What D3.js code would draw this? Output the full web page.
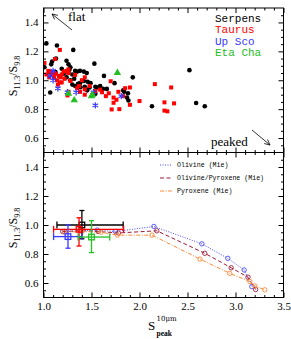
<!DOCTYPE html>
<html><head><meta charset="utf-8">
<script src="https://cdn.jsdelivr.net/npm/d3@7"></script>
<style>html,body{margin:0;padding:0;background:#fff;}svg{display:block;}</style>
</head><body>
<script>
// ---------- DATA ----------
const serpensX = [1.03,1.14,1.31,1.01,1.08,1.09,1.13,1.19,1.24,1.26,1.28,1.21,1.26,1.30,1.33,1.35,1.38,1.42,1.45,1.24,1.28,1.30,1.33,1.38,1.42,1.46,1.49,1.53,1.43,1.48,1.54,1.56,1.59,1.62,1.66,1.63,1.74,1.83,1.88,1.885,1.87,1.93,1.07,1.84,1.07,1.125,1.21,1.27,1.32,1.36,1.385,1.455,1.54,2.52,2.13,2.59,2.68];
const serpensY = [1.255,1.24,1.21,1.09,1.11,1.13,1.15,1.08,1.135,1.11,1.09,1.05,1.05,1.04,1.065,1.06,1.065,1.06,1.05,1.02,1.0,0.97,0.96,0.98,0.995,0.99,0.98,1.115,0.955,0.95,0.955,0.95,0.96,0.94,0.94,1.03,0.98,0.93,0.91,0.86,0.88,1.02,0.915,0.92,1.054,1.056,1.045,1.073,1.01,0.975,0.952,0.93,0.906,1.07,0.82,0.843,0.82];
const taurusX = [1.01,1.12,1.17,1.05,1.07,1.09,1.11,1.13,1.16,1.18,1.19,1.21,1.24,1.11,1.14,1.17,1.19,1.22,1.26,1.26,1.28,1.33,1.40,1.43,1.43,1.48,1.54,1.59,1.65,1.68,1.73,1.71,1.73,1.76,1.78,1.85,1.90,1.83,2.0,1.26,1.25,1.38,1.43,1.37,1.35,1.70,1.90,1.61,1.79,2.16,2.33,2.26,2.36,2.26,2.29,1.03,1.06,1.15];
const taurusY = [1.12,1.147,1.21,1.065,1.06,1.04,1.05,1.045,1.03,1.02,1.04,1.06,1.065,1.02,1.0,0.985,0.985,1.01,1.075,1.05,0.995,1.037,1.0,1.02,0.937,0.96,0.925,0.935,0.89,0.91,0.88,0.798,0.844,0.865,0.92,0.945,0.83,0.89,0.856,0.92,0.895,0.92,0.90,0.96,0.945,0.993,0.95,0.917,0.80,0.973,0.95,0.847,0.84,0.79,0.785,1.04,1.02,0.97];
const upscoX = [1.07,1.10,1.10,1.15,1.25,1.34,1.52,1.54,1.81];
const upscoY = [1.03,1.065,1.0,0.944,0.917,0.917,0.917,0.826,0.89];
const etachaX = [1.26,1.32,1.50,1.51,1.77];
const etachaY = [0.907,0.862,0.89,0.90,1.052];

const groupNames = ["Serpens","Taurus","Up Sco","Eta Cha"];
const groupColors = ["#000000","#ff0000","#3a3aff","#22c022"];

// Mean values with error bars (lower panel): Serpens, Taurus, Up Sco, Eta Cha
const meanX   = [1.40, 1.37, 1.255, 1.50];
const meanXlo = [1.14, 1.105, 1.105, 1.36];
const meanXhi = [1.83, 1.835, 1.40, 1.69];
const meanY   = [1.00, 0.97, 0.92, 0.917];
const meanYlo = [0.905, 0.855, 0.84, 0.81];
const meanYhi = [1.10, 1.05, 1.0, 1.03];

// Mie models
const modelNames = ["Olivine (Mie)","Olivine/Pyroxene (Mie)","Pyroxene (Mie)"];
const modelColors = ["#4a4aff","#9e1a3a","#ff8a3a"];
const olivineX = [1.22,1.56,1.75,2.15,2.65,2.92,3.09,3.17];
const olivineY = [0.955,0.965,0.955,0.99,0.87,0.77,0.69,0.575];
const olpyX = [1.20,1.40,1.57,1.78,2.18,2.68,2.955,3.13,3.21];
const olpyY = [0.955,0.96,0.955,0.945,0.96,0.805,0.705,0.64,0.555];
const pyroxX = [1.22,1.40,1.60,1.77,2.13,2.63,2.94,3.15,3.20,3.305];
const pyroxY = [0.95,0.955,0.95,0.93,0.93,0.765,0.667,0.61,0.58,0.553];

const xMajor = [1.0,1.5,2.0,2.5,3.0,3.5];
const yMajor = [0.6,0.8,1.0,1.2,1.4];

// ---------- DRAW ----------
const W = 291, H = 339;
const svg = d3.select("body").append("svg").attr("width",W).attr("height",H);
const L = 43.5, R = 283.5;
const x = d3.scaleLinear().domain([1,3.5]).range([L,R]);
const yTop = d3.scaleLinear().domain([0.5,1.5]).range([152.5,8]);
const yBot = d3.scaleLinear().domain([0.5,1.5]).range([297.5,152.5]);

const xMinor = d3.range(11,35).map(d=>d/10).filter(v=>!xMajor.some(m=>Math.abs(m-v)<1e-6));
const yMinor = d3.range(11,30).map(d=>d*0.05).filter(v=>!yMajor.some(m=>Math.abs(m-v)<1e-6));
const serif = "'Liberation Serif', 'DejaVu Serif', serif";
const mono = "'Liberation Mono', 'DejaVu Sans Mono', monospace";

function frame(y, showX){
  const g = svg.append("g");
  const y0 = y.range()[0], y1 = y.range()[1];
  const add = (axis, tr) => {
    const a = g.append("g").attr("transform", tr).call(axis);
    a.select(".domain").remove();
    a.selectAll("line").attr("stroke","#000").attr("stroke-width",1);
    a.selectAll("text").attr("font-family",serif).attr("font-size",11).attr("fill","#000");
    return a;
  };
  add(d3.axisBottom(x).tickValues(xMajor).tickSize(-5).tickPadding(5).tickFormat(showX? d3.format(".1f") : ()=>""), `translate(0,${y0})`);
  add(d3.axisBottom(x).tickValues(xMinor).tickSize(-2.5).tickFormat(()=>""), `translate(0,${y0})`);
  add(d3.axisTop(x).tickValues(xMajor).tickSize(-5).tickFormat(()=>""), `translate(0,${y1})`);
  add(d3.axisTop(x).tickValues(xMinor).tickSize(-2.5).tickFormat(()=>""), `translate(0,${y1})`);
  add(d3.axisLeft(y).tickValues(yMajor).tickSize(-5).tickPadding(5).tickFormat(d3.format(".1f")), `translate(${L},0)`);
  add(d3.axisLeft(y).tickValues(yMinor).tickSize(-2.5).tickFormat(()=>""), `translate(${L},0)`);
  add(d3.axisRight(y).tickValues(yMajor).tickSize(-5).tickFormat(()=>""), `translate(${R},0)`);
  add(d3.axisRight(y).tickValues(yMinor).tickSize(-2.5).tickFormat(()=>""), `translate(${R},0)`);
  g.append("rect").attr("x",L).attr("y",y1).attr("width",R-L).attr("height",y0-y1)
    .attr("fill","none").attr("stroke","#000").attr("stroke-width",1);
  return g;
}

// ----- upper panel -----
const up = svg.append("g");
svg.append("clipPath").attr("id","ct").append("rect")
  .attr("x",L).attr("y",yTop.range()[1]).attr("width",R-L).attr("height",yTop.range()[0]-yTop.range()[1]);
const pts = up.append("g").attr("clip-path","url(#ct)");
pts.selectAll("circle.s").data(d3.zip(serpensX,serpensY)).join("circle")
  .attr("cx",d=>x(d[0])).attr("cy",d=>yTop(d[1])).attr("r",2.3).attr("fill",groupColors[0]);
pts.selectAll("rect.t").data(d3.zip(taurusX,taurusY)).join("rect")
  .attr("x",d=>x(d[0])-2).attr("y",d=>yTop(d[1])-2).attr("width",4).attr("height",4).attr("fill",groupColors[1]);
const star = d3.symbol().type(d3.symbolAsterisk || d3.symbolCross).size(28);
pts.selectAll("path.u").data(d3.zip(upscoX,upscoY)).join("path")
  .attr("d",star).attr("transform",d=>`translate(${x(d[0])},${yTop(d[1])})`)
  .attr("fill","none").attr("stroke",groupColors[2]).attr("stroke-width",1.2);
const tri = d3.symbol().type(d3.symbolTriangle).size(24);
pts.selectAll("path.e").data(d3.zip(etachaX,etachaY)).join("path")
  .attr("d",tri).attr("transform",d=>`translate(${x(d[0])},${yTop(d[1])})`)
  .attr("fill",groupColors[3]);

frame(yTop,false);

// legend upper
svg.append("g").selectAll("text").data(groupNames).join("text")
  .attr("x",215).attr("y",(d,i)=>22+i*11.4).text(d=>d)
  .attr("font-family",mono).attr("font-size",11).attr("fill",(d,i)=>groupColors[i]);

// arrows
function arrow(x1,y1,x2,y2){
  const g = svg.append("g").attr("stroke","#000").attr("stroke-width",0.8).attr("fill","none");
  g.append("line").attr("x1",x1).attr("y1",y1).attr("x2",x2).attr("y2",y2);
  const ang = Math.atan2(y2-y1,x2-x1), h=6, s=0.45;
  g.append("path").attr("d",`M${x2-h*Math.cos(ang-s)},${y2-h*Math.sin(ang-s)}L${x2},${y2}L${x2-h*Math.cos(ang+s)},${y2-h*Math.sin(ang+s)}`);
}
arrow(72,30,52,14);
arrow(252,130,270,145);
svg.append("text").attr("x",68).attr("y",21).text("flat").attr("font-family",serif).attr("font-size",13).attr("fill","#000");
svg.append("text").attr("x",211).attr("y",146).text("peaked").attr("font-family",serif).attr("font-size",13).attr("fill","#000");

// ----- lower panel -----
const lo = svg.append("g");
const models = [[olivineX,olivineY,"1,1.5"],[olpyX,olpyY,"4,2.5"],[pyroxX,pyroxY,"4,1.5,1,1.5"]];
const line = d3.line().x(d=>x(d[0])).y(d=>yBot(d[1]));
models.forEach((m,i)=>{
  const data = d3.zip(m[0],m[1]);
  lo.append("path").attr("d",line(data)).attr("fill","none").attr("stroke",modelColors[i])
    .attr("stroke-width",1).attr("stroke-dasharray",m[2]);
  lo.append("g").selectAll("circle").data(data).join("circle")
    .attr("cx",d=>x(d[0])).attr("cy",d=>yBot(d[1])).attr("r",2.2)
    .attr("fill","none").attr("stroke",modelColors[i]).attr("stroke-width",0.9);
});
// error bars
const eb = lo.append("g");
meanX.forEach((mx,i)=>{
  const g = eb.append("g").attr("stroke",groupColors[i]).attr("stroke-width",1.3).attr("fill","none");
  const cx = x(mx), cy = yBot(meanY[i]);
  g.append("line").attr("x1",x(meanXlo[i])).attr("x2",x(meanXhi[i])).attr("y1",cy).attr("y2",cy);
  g.append("line").attr("x1",cx).attr("x2",cx).attr("y1",yBot(meanYlo[i])).attr("y2",yBot(meanYhi[i]));
  [meanXlo[i],meanXhi[i]].forEach(v=>g.append("line").attr("x1",x(v)).attr("x2",x(v)).attr("y1",cy-3.5).attr("y2",cy+3.5));
  [meanYlo[i],meanYhi[i]].forEach(v=>g.append("line").attr("x1",cx-2.5).attr("x2",cx+2.5).attr("y1",yBot(v)).attr("y2",yBot(v)));
  g.append("rect").attr("x",cx-2.8).attr("y",cy-2.8).attr("width",5.6).attr("height",5.6);
});

frame(yBot,true);

// lower legend
const lg = svg.append("g");
modelNames.forEach((n,i)=>{
  const yy = 165 + i*13;
  lg.append("line").attr("x1",160).attr("x2",172).attr("y1",yy).attr("y2",yy)
    .attr("stroke",modelColors[i]).attr("stroke-width",1).attr("stroke-dasharray",models[i][2]);
  lg.append("text").attr("x",177).attr("y",yy+2.2).text(n)
    .attr("font-family",mono).attr("font-size",6.6).attr("fill","#000");
});

// axis labels
function ylab(cy){
  const t = svg.append("text").attr("transform",`translate(17,${cy}) rotate(-90)`)
    .attr("text-anchor","middle").attr("font-family",serif).attr("font-size",12).attr("fill","#000");
  t.append("tspan").text("S");
  t.append("tspan").attr("dy",3).attr("font-size",8).text("11.3");
  t.append("tspan").attr("dy",-3).text("/S");
  t.append("tspan").attr("dy",3).attr("font-size",8).text("9.8");
}
ylab(76);
ylab(228);
svg.append("text").attr("x",148).attr("y",330).text("S").attr("font-family",serif).attr("font-size",13).attr("fill","#000");
svg.append("text").attr("x",156.5).attr("y",321).text("10μm").attr("font-family","'DejaVu Serif', serif").attr("font-size",7).attr("fill","#000");
svg.append("text").attr("x",156.5).attr("y",336).text("peak").attr("font-family",serif).attr("font-size",7.5).attr("font-weight","bold").attr("fill","#000");
</script>
</body></html>
